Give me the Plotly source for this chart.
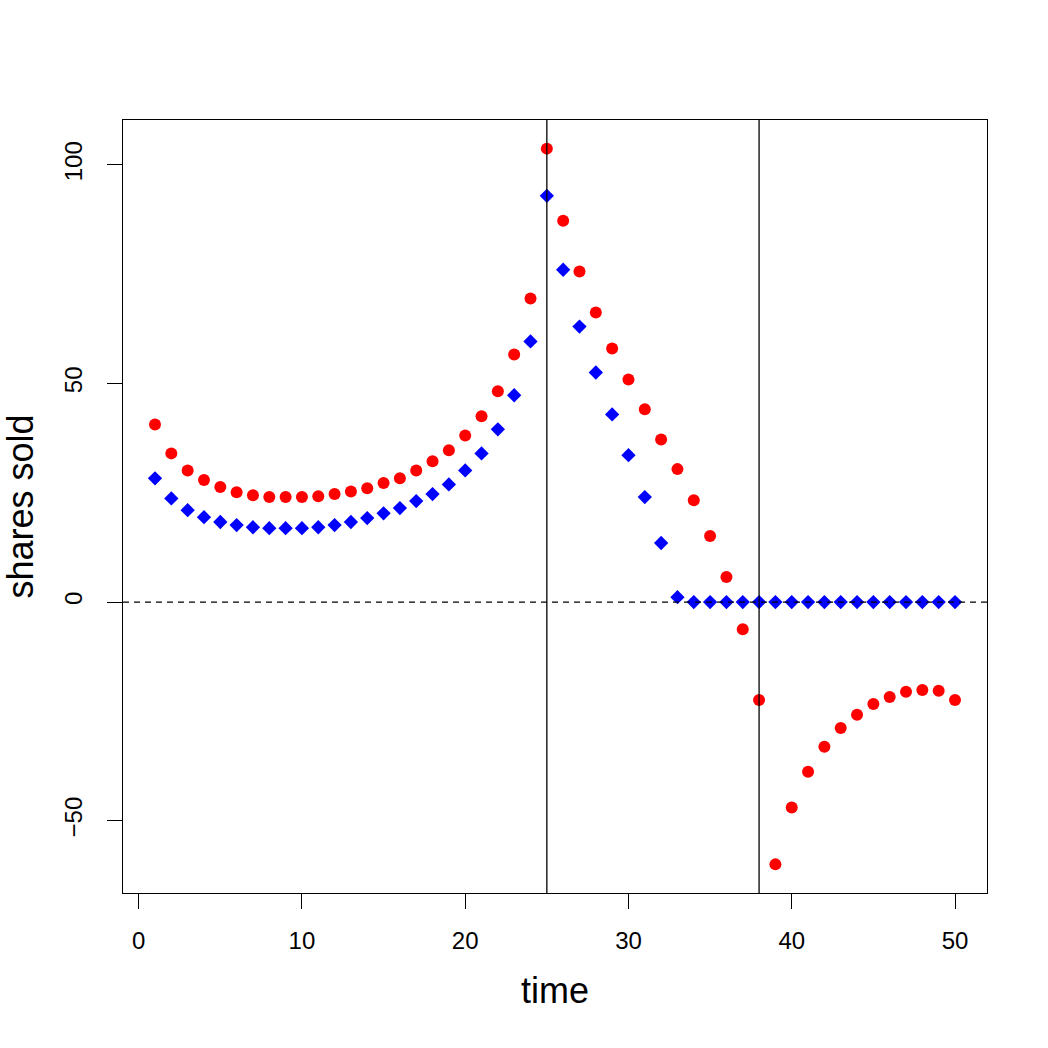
import plotly.graph_objects as go

time = list(range(1, 51))
red_values = [40.6, 34.0, 30.1, 27.9, 26.3, 25.1, 24.4, 24.0, 24.0, 24.0,
              24.2, 24.7, 25.3, 26.0, 27.2, 28.3, 30.1, 32.2, 34.7, 38.1,
              42.5, 48.2, 56.6, 69.4, 103.7, 87.2, 75.6, 66.2, 58.0, 50.9,
              44.1, 37.2, 30.4, 23.3, 15.1, 5.7, -6.2, -22.4, -60.0, -47.0,
              -38.8, -33.1, -28.8, -25.8, -23.3, -21.7, -20.5, -20.1, -20.3, -22.4]
blue_values = [28.3, 23.7, 21.0, 19.4, 18.3, 17.6, 17.1, 16.9, 16.9, 16.9,
               17.1, 17.6, 18.3, 19.2, 20.3, 21.5, 23.1, 24.7, 26.9, 30.1,
               34.0, 39.5, 47.3, 59.6, 92.9, 76.0, 63.0, 52.5, 42.9, 33.6,
               24.0, 13.5, 1.1, 0, 0, 0, 0, 0, 0, 0,
               0, 0, 0, 0, 0, 0, 0, 0, 0, 0]
vlines = [25, 38]
hline = 0
x_ticks = [0, 10, 20, 30, 40, 50]
y_ticks = [-50, 0, 50, 100]

FONT = "Liberation Sans, Arial, Helvetica, sans-serif"

fig = go.Figure()
fig.add_trace(go.Scatter(x=time, y=blue_values, mode="markers",
                         marker=dict(symbol="diamond", size=11, color="blue"),
                         showlegend=False))
fig.add_trace(go.Scatter(x=time, y=red_values, mode="markers",
                         marker=dict(symbol="circle", size=12, color="red"),
                         showlegend=False))

for v in vlines:
    fig.add_shape(type="line", xref="x", yref="paper", x0=v, x1=v, y0=0, y1=1,
                  line=dict(color="black", width=1.3))
fig.add_shape(type="line", xref="paper", yref="y", x0=0, x1=1, y0=hline, y1=hline,
              line=dict(color="black", width=1.3, dash="6px,5px"))

xmin, xmax = min(time), max(time)
xpad = (xmax - xmin) * 0.04
allv = red_values + blue_values
ymin, ymax = min(allv), max(allv)
ypad = (ymax - ymin) * 0.04

fig.update_layout(
    width=1048, height=1048,
    margin=dict(l=123, r=61, t=120, b=155),
    paper_bgcolor="white", plot_bgcolor="white",
    font=dict(family=FONT, color="black"),
    xaxis=dict(range=[xmin - xpad, xmax + xpad], tickvals=x_ticks,
               ticks="outside", ticklen=15, tickwidth=1.3, tickcolor="black",
               showline=True, linecolor="black", linewidth=1.3, mirror=True,
               showgrid=False, zeroline=False, ticklabelstandoff=11,
               tickfont=dict(size=24, family=FONT),
               title=dict(text="time", font=dict(size=36, family=FONT), standoff=24)),
    yaxis=dict(range=[ymin - ypad, ymax + ypad], tickvals=y_ticks,
               ticks="outside", ticklen=15, tickwidth=1.3, tickcolor="black",
               showline=True, linecolor="black", linewidth=1.3, mirror=True,
               showgrid=False, zeroline=False, tickangle=-90, ticklabelstandoff=15,
               tickfont=dict(size=24, family=FONT),
               title=dict(text="shares sold", font=dict(size=36, family=FONT), standoff=22)),
)

fig.write_html("out.html")
